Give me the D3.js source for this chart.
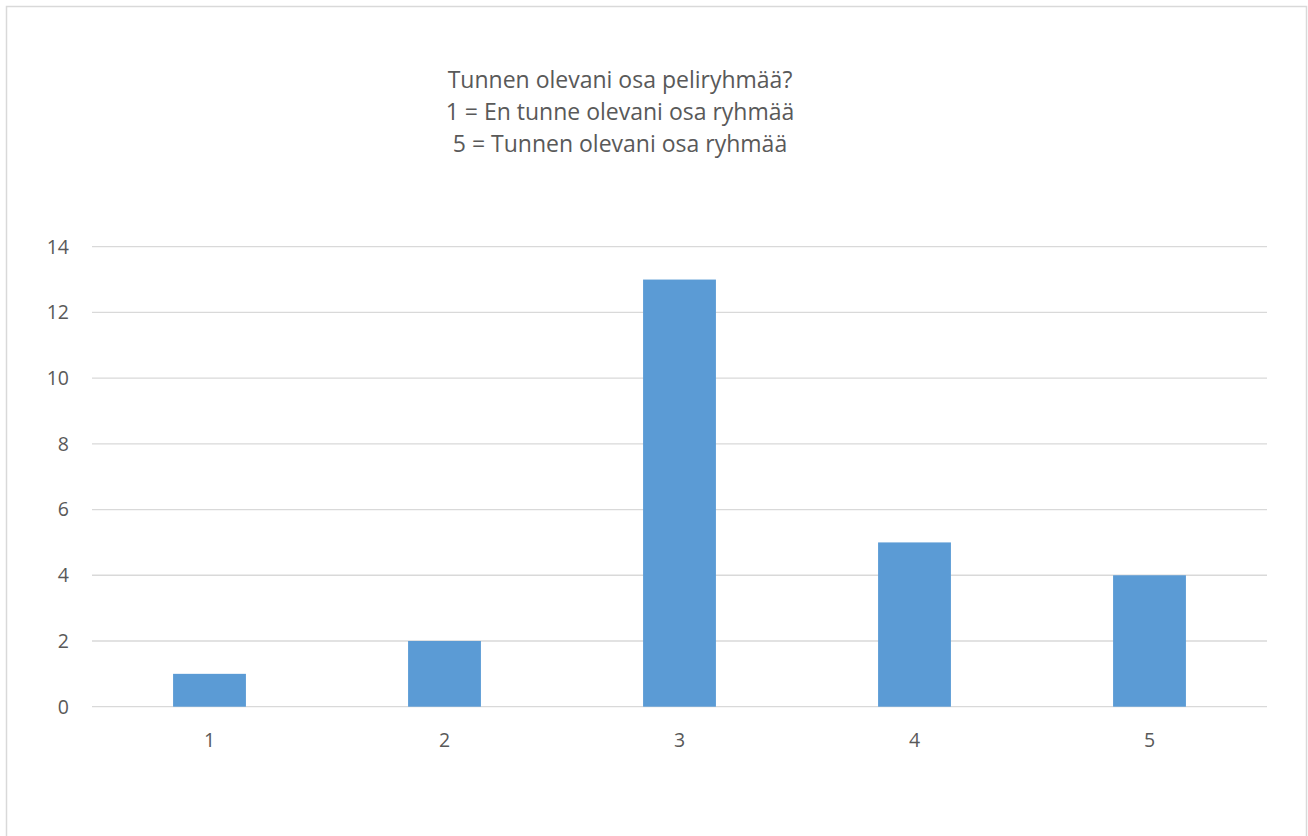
<!DOCTYPE html>
<html>
<head>
<meta charset="utf-8">
<script src="https://cdn.jsdelivr.net/npm/d3@7"></script>
<style>
  html, body { margin: 0; padding: 0; background: #fff; }
  svg { display: block; }
  text { font-family: "Open Sans", "Noto Sans", sans-serif; fill: #595959; }
</style>
</head>
<body>
<svg id="chart" width="1308" height="836"></svg>
<script>
// Survey responses: "Tunnen olevani osa peliryhmää?" on a 1–5 scale
const categories = ["1", "2", "3", "4", "5"];
const counts = [1, 2, 13, 5, 4];
const yTicks = [0, 2, 4, 6, 8, 10, 12, 14];
const titleLines = [
  "Tunnen olevani osa peliryhmää?",
  "1 = En tunne olevani osa ryhmää",
  "5 = Tunnen olevani osa ryhmää"
];

const svg = d3.select("#chart");

// chart frame
svg.append("path")
  .attr("d", "M6.5,836 V6.5 H1306.5 V836")
  .attr("fill", "none")
  .attr("stroke", "#d9d9d9")
  .attr("stroke-width", 1.5);

const plot = { left: 92, right: 1267, top: 246.7, bottom: 706.7 };

const x = d3.scaleBand()
  .domain(categories)
  .range([plot.left, plot.right])
  .paddingInner(0.69)
  .paddingOuter(0.345);

const y = d3.scaleLinear()
  .domain([0, 14])
  .range([plot.bottom, plot.top]);

// horizontal gridlines
svg.append("g")
  .selectAll("line")
  .data(yTicks)
  .join("line")
  .attr("x1", plot.left)
  .attr("x2", plot.right)
  .attr("y1", d => y(d))
  .attr("y2", d => y(d))
  .attr("stroke", "#d9d9d9")
  .attr("stroke-width", 1.3);

// y tick labels
svg.append("g")
  .selectAll("text")
  .data(yTicks)
  .join("text")
  .attr("x", 69)
  .attr("y", d => y(d))
  .attr("dy", "0.35em")
  .attr("text-anchor", "end")
  .attr("font-size", 19.5)
  .text(d => d);

// bars
svg.append("g")
  .selectAll("rect")
  .data(counts)
  .join("rect")
  .attr("x", (d, i) => x(categories[i]))
  .attr("width", x.bandwidth())
  .attr("y", d => y(d))
  .attr("height", d => y(0) - y(d))
  .attr("fill", "#5b9bd5");

// x category labels
svg.append("g")
  .selectAll("text")
  .data(categories)
  .join("text")
  .attr("x", d => x(d) + x.bandwidth() / 2)
  .attr("y", 740)
  .attr("dy", "0.35em")
  .attr("text-anchor", "middle")
  .attr("font-size", 19.5)
  .text(d => d);

// title block
svg.append("g")
  .selectAll("text")
  .data(titleLines)
  .join("text")
  .attr("x", 620)
  .attr("y", (d, i) => 80 + i * 32)
  .attr("dy", "0.35em")
  .attr("text-anchor", "middle")
  .attr("font-size", 23)
  .text(d => d);
</script>
</body>
</html>
